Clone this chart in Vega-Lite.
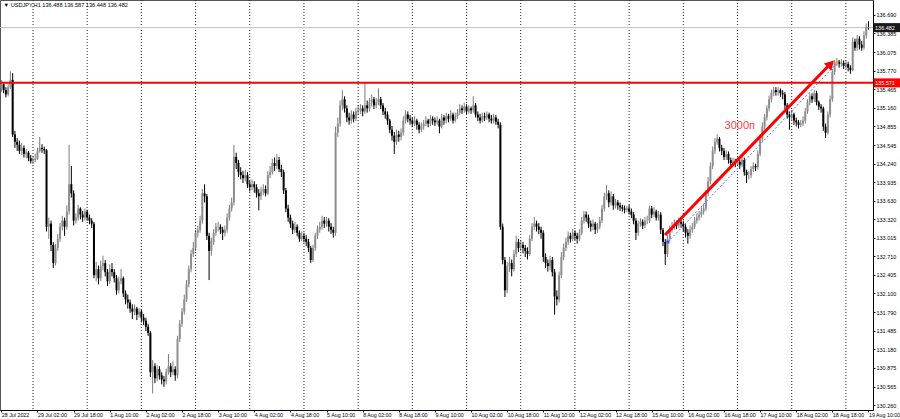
{
"$schema": "https://vega.github.io/schema/vega-lite/v6.json",
"width": 873, "height": 410,
"autosize": {"type": "none"},
"padding": {"left": 0, "top": 0, "right": 27, "bottom": 9},
"background": "white",
"config": {"view": {"stroke": "#555", "strokeWidth": 1}},
"data": {"name": "candles"},
"datasets": {
"candles": [
{"i":0,"o":135.48,"h":135.62,"l":135.42,"c":135.55},
{"i":1,"o":135.55,"h":135.58,"l":135.40,"c":135.45},
{"i":2,"o":135.45,"h":135.50,"l":135.33,"c":135.38},
{"i":3,"o":135.38,"h":135.55,"l":135.35,"c":135.50},
{"i":4,"o":135.50,"h":135.76,"l":135.47,"c":135.62},
{"i":5,"o":135.62,"h":135.73,"l":134.68,"c":134.72},
{"i":6,"o":134.72,"h":134.78,"l":134.50,"c":134.60},
{"i":7,"o":134.60,"h":134.66,"l":134.45,"c":134.55},
{"i":8,"o":134.55,"h":134.62,"l":134.40,"c":134.45},
{"i":9,"o":134.45,"h":134.58,"l":134.38,"c":134.50},
{"i":10,"o":134.50,"h":134.54,"l":134.34,"c":134.40},
{"i":11,"o":134.40,"h":134.48,"l":134.33,"c":134.42},
{"i":12,"o":134.42,"h":134.45,"l":134.28,"c":134.33},
{"i":13,"o":134.33,"h":134.38,"l":134.24,"c":134.28},
{"i":14,"o":134.28,"h":134.36,"l":134.23,"c":134.30},
{"i":15,"o":134.30,"h":134.40,"l":134.26,"c":134.32},
{"i":16,"o":134.32,"h":134.50,"l":134.30,"c":134.45},
{"i":17,"o":134.45,"h":134.68,"l":134.42,"c":134.50},
{"i":18,"o":134.50,"h":134.56,"l":134.42,"c":134.48},
{"i":19,"o":134.48,"h":134.52,"l":134.40,"c":134.46},
{"i":20,"o":134.46,"h":134.48,"l":133.12,"c":133.20},
{"i":21,"o":133.20,"h":133.35,"l":133.00,"c":133.25},
{"i":22,"o":133.25,"h":133.30,"l":132.80,"c":132.90},
{"i":23,"o":132.90,"h":132.95,"l":132.52,"c":132.60},
{"i":24,"o":132.60,"h":132.92,"l":132.56,"c":132.85},
{"i":25,"o":132.85,"h":133.08,"l":132.80,"c":133.00},
{"i":26,"o":133.00,"h":133.26,"l":132.95,"c":133.20},
{"i":27,"o":133.20,"h":133.38,"l":133.14,"c":133.30},
{"i":28,"o":133.30,"h":133.35,"l":133.05,"c":133.20},
{"i":29,"o":133.20,"h":133.55,"l":133.15,"c":133.45},
{"i":30,"o":133.45,"h":134.55,"l":133.40,"c":133.90},
{"i":31,"o":133.90,"h":134.20,"l":133.68,"c":133.75},
{"i":32,"o":133.75,"h":133.80,"l":133.22,"c":133.30},
{"i":33,"o":133.30,"h":133.42,"l":133.25,"c":133.35},
{"i":34,"o":133.35,"h":133.56,"l":133.30,"c":133.50},
{"i":35,"o":133.50,"h":133.52,"l":133.32,"c":133.40},
{"i":36,"o":133.40,"h":133.46,"l":133.28,"c":133.35},
{"i":37,"o":133.35,"h":133.50,"l":133.30,"c":133.45},
{"i":38,"o":133.45,"h":133.48,"l":133.30,"c":133.35},
{"i":39,"o":133.35,"h":133.40,"l":133.24,"c":133.30},
{"i":40,"o":133.30,"h":133.34,"l":133.18,"c":133.25},
{"i":41,"o":133.25,"h":133.28,"l":132.35,"c":132.40},
{"i":42,"o":132.40,"h":132.62,"l":132.30,"c":132.50},
{"i":43,"o":132.50,"h":132.56,"l":132.25,"c":132.35},
{"i":44,"o":132.35,"h":132.64,"l":132.30,"c":132.55},
{"i":45,"o":132.55,"h":132.72,"l":132.48,"c":132.60},
{"i":46,"o":132.60,"h":132.65,"l":132.38,"c":132.45},
{"i":47,"o":132.45,"h":132.50,"l":132.22,"c":132.30},
{"i":48,"o":132.30,"h":132.58,"l":132.26,"c":132.50},
{"i":49,"o":132.50,"h":132.60,"l":132.38,"c":132.45},
{"i":50,"o":132.45,"h":132.50,"l":132.28,"c":132.35},
{"i":51,"o":132.35,"h":132.40,"l":132.08,"c":132.15},
{"i":52,"o":132.15,"h":132.38,"l":132.10,"c":132.30},
{"i":53,"o":132.30,"h":132.50,"l":132.25,"c":132.35},
{"i":54,"o":132.35,"h":132.38,"l":132.04,"c":132.10},
{"i":55,"o":132.10,"h":132.15,"l":131.92,"c":132.00},
{"i":56,"o":132.00,"h":132.08,"l":131.85,"c":131.95},
{"i":57,"o":131.95,"h":132.00,"l":131.78,"c":131.85},
{"i":58,"o":131.85,"h":131.92,"l":131.68,"c":131.80},
{"i":59,"o":131.80,"h":131.92,"l":131.74,"c":131.85},
{"i":60,"o":131.85,"h":131.88,"l":131.66,"c":131.75},
{"i":61,"o":131.75,"h":131.86,"l":131.70,"c":131.80},
{"i":62,"o":131.80,"h":131.84,"l":131.62,"c":131.70},
{"i":63,"o":131.70,"h":131.76,"l":131.58,"c":131.65},
{"i":64,"o":131.65,"h":131.70,"l":131.48,"c":131.55},
{"i":65,"o":131.55,"h":131.60,"l":131.40,"c":131.45},
{"i":66,"o":131.45,"h":131.48,"l":130.72,"c":130.80},
{"i":67,"o":130.80,"h":131.00,"l":130.45,"c":130.90},
{"i":68,"o":130.90,"h":130.95,"l":130.62,"c":130.70},
{"i":69,"o":130.70,"h":130.92,"l":130.65,"c":130.85},
{"i":70,"o":130.85,"h":130.90,"l":130.68,"c":130.75},
{"i":71,"o":130.75,"h":130.80,"l":130.60,"c":130.68},
{"i":72,"o":130.68,"h":130.74,"l":130.56,"c":130.65},
{"i":73,"o":130.65,"h":130.86,"l":130.60,"c":130.80},
{"i":74,"o":130.80,"h":131.10,"l":130.76,"c":130.90},
{"i":75,"o":130.90,"h":130.95,"l":130.72,"c":130.80},
{"i":76,"o":130.80,"h":130.98,"l":130.75,"c":130.85},
{"i":77,"o":130.85,"h":130.90,"l":130.66,"c":130.75},
{"i":78,"o":130.75,"h":131.40,"l":130.70,"c":131.35},
{"i":79,"o":131.35,"h":131.66,"l":131.30,"c":131.60},
{"i":80,"o":131.60,"h":131.86,"l":131.55,"c":131.80},
{"i":81,"o":131.80,"h":132.08,"l":131.75,"c":132.00},
{"i":82,"o":132.00,"h":132.32,"l":131.96,"c":132.25},
{"i":83,"o":132.25,"h":132.56,"l":132.20,"c":132.50},
{"i":84,"o":132.50,"h":132.82,"l":132.45,"c":132.75},
{"i":85,"o":132.75,"h":132.95,"l":132.70,"c":132.85},
{"i":86,"o":132.85,"h":133.15,"l":132.80,"c":133.10},
{"i":87,"o":133.10,"h":133.22,"l":133.02,"c":133.15},
{"i":88,"o":133.15,"h":133.38,"l":133.10,"c":133.30},
{"i":89,"o":133.30,"h":133.82,"l":133.25,"c":133.75},
{"i":90,"o":133.75,"h":133.90,"l":133.60,"c":133.70},
{"i":91,"o":133.70,"h":133.74,"l":132.98,"c":133.05},
{"i":92,"o":133.05,"h":133.10,"l":132.32,"c":132.80},
{"i":93,"o":132.80,"h":133.02,"l":132.72,"c":132.95},
{"i":94,"o":132.95,"h":133.16,"l":132.90,"c":133.10},
{"i":95,"o":133.10,"h":133.26,"l":133.05,"c":133.20},
{"i":96,"o":133.20,"h":133.28,"l":133.12,"c":133.20},
{"i":97,"o":133.20,"h":133.24,"l":133.08,"c":133.15},
{"i":98,"o":133.15,"h":133.20,"l":132.98,"c":133.10},
{"i":99,"o":133.10,"h":133.22,"l":133.04,"c":133.15},
{"i":100,"o":133.15,"h":133.42,"l":133.10,"c":133.35},
{"i":101,"o":133.35,"h":133.56,"l":133.30,"c":133.50},
{"i":102,"o":133.50,"h":133.68,"l":133.45,"c":133.60},
{"i":103,"o":133.60,"h":134.55,"l":133.55,"c":134.35},
{"i":104,"o":134.35,"h":134.42,"l":134.15,"c":134.25},
{"i":105,"o":134.25,"h":134.30,"l":134.02,"c":134.10},
{"i":106,"o":134.10,"h":134.18,"l":133.98,"c":134.05},
{"i":107,"o":134.05,"h":134.12,"l":133.92,"c":134.00},
{"i":108,"o":134.00,"h":134.14,"l":133.95,"c":134.05},
{"i":109,"o":134.05,"h":134.10,"l":133.84,"c":133.90},
{"i":110,"o":133.90,"h":133.96,"l":133.78,"c":133.85},
{"i":111,"o":133.85,"h":133.98,"l":133.80,"c":133.90},
{"i":112,"o":133.90,"h":133.95,"l":133.76,"c":133.85},
{"i":113,"o":133.85,"h":133.90,"l":133.68,"c":133.75},
{"i":114,"o":133.75,"h":133.82,"l":133.47,"c":133.70},
{"i":115,"o":133.70,"h":133.86,"l":133.64,"c":133.78},
{"i":116,"o":133.78,"h":133.90,"l":133.72,"c":133.82},
{"i":117,"o":133.82,"h":133.88,"l":133.70,"c":133.75},
{"i":118,"o":133.75,"h":134.12,"l":133.72,"c":134.05},
{"i":119,"o":134.05,"h":134.20,"l":134.00,"c":134.10},
{"i":120,"o":134.10,"h":134.32,"l":134.06,"c":134.25},
{"i":121,"o":134.25,"h":134.34,"l":134.12,"c":134.20},
{"i":122,"o":134.20,"h":134.40,"l":134.15,"c":134.30},
{"i":123,"o":134.30,"h":134.35,"l":134.10,"c":134.15},
{"i":124,"o":134.15,"h":134.22,"l":134.02,"c":134.10},
{"i":125,"o":134.10,"h":134.14,"l":133.74,"c":133.80},
{"i":126,"o":133.80,"h":133.84,"l":133.44,"c":133.50},
{"i":127,"o":133.50,"h":133.56,"l":133.28,"c":133.35},
{"i":128,"o":133.35,"h":133.40,"l":133.18,"c":133.25},
{"i":129,"o":133.25,"h":133.30,"l":133.08,"c":133.15},
{"i":130,"o":133.15,"h":133.28,"l":133.10,"c":133.20},
{"i":131,"o":133.20,"h":133.24,"l":133.04,"c":133.10},
{"i":132,"o":133.10,"h":133.14,"l":132.95,"c":133.00},
{"i":133,"o":133.00,"h":133.12,"l":132.96,"c":133.05},
{"i":134,"o":133.05,"h":133.10,"l":132.94,"c":133.00},
{"i":135,"o":133.00,"h":133.06,"l":132.88,"c":132.95},
{"i":136,"o":132.95,"h":133.00,"l":132.78,"c":132.85},
{"i":137,"o":132.85,"h":132.88,"l":132.60,"c":132.65},
{"i":138,"o":132.65,"h":132.90,"l":132.62,"c":132.85},
{"i":139,"o":132.85,"h":133.10,"l":132.80,"c":133.05},
{"i":140,"o":133.05,"h":133.22,"l":133.00,"c":133.15},
{"i":141,"o":133.15,"h":133.28,"l":133.10,"c":133.20},
{"i":142,"o":133.20,"h":133.38,"l":133.15,"c":133.30},
{"i":143,"o":133.30,"h":133.36,"l":133.18,"c":133.25},
{"i":144,"o":133.25,"h":133.36,"l":133.20,"c":133.30},
{"i":145,"o":133.30,"h":133.34,"l":133.12,"c":133.20},
{"i":146,"o":133.20,"h":133.26,"l":133.08,"c":133.15},
{"i":147,"o":133.15,"h":133.20,"l":133.02,"c":133.10},
{"i":148,"o":133.10,"h":134.85,"l":133.05,"c":134.75},
{"i":149,"o":134.75,"h":135.00,"l":134.68,"c":134.90},
{"i":150,"o":134.90,"h":135.28,"l":134.85,"c":135.20},
{"i":151,"o":135.20,"h":135.45,"l":135.12,"c":135.30},
{"i":152,"o":135.30,"h":135.35,"l":135.08,"c":135.15},
{"i":153,"o":135.15,"h":135.20,"l":134.92,"c":135.00},
{"i":154,"o":135.00,"h":135.08,"l":134.88,"c":134.95},
{"i":155,"o":134.95,"h":135.12,"l":134.90,"c":135.05},
{"i":156,"o":135.05,"h":135.10,"l":134.92,"c":134.98},
{"i":157,"o":134.98,"h":135.16,"l":134.94,"c":135.10},
{"i":158,"o":135.10,"h":135.20,"l":135.04,"c":135.12},
{"i":159,"o":135.12,"h":135.22,"l":135.06,"c":135.15},
{"i":160,"o":135.15,"h":135.20,"l":135.02,"c":135.10},
{"i":161,"o":135.10,"h":135.58,"l":135.06,"c":135.20},
{"i":162,"o":135.20,"h":135.28,"l":135.08,"c":135.15},
{"i":163,"o":135.15,"h":135.32,"l":135.10,"c":135.25},
{"i":164,"o":135.25,"h":135.38,"l":135.18,"c":135.30},
{"i":165,"o":135.30,"h":135.34,"l":135.14,"c":135.20},
{"i":166,"o":135.20,"h":135.32,"l":135.15,"c":135.25},
{"i":167,"o":135.25,"h":135.48,"l":135.20,"c":135.30},
{"i":168,"o":135.30,"h":135.34,"l":135.14,"c":135.20},
{"i":169,"o":135.20,"h":135.24,"l":135.04,"c":135.10},
{"i":170,"o":135.10,"h":135.16,"l":134.98,"c":135.05},
{"i":171,"o":135.05,"h":135.10,"l":134.88,"c":134.95},
{"i":172,"o":134.95,"h":134.98,"l":134.74,"c":134.80},
{"i":173,"o":134.80,"h":134.86,"l":134.62,"c":134.70},
{"i":174,"o":134.70,"h":134.76,"l":134.40,"c":134.60},
{"i":175,"o":134.60,"h":134.80,"l":134.55,"c":134.72},
{"i":176,"o":134.72,"h":134.78,"l":134.60,"c":134.68},
{"i":177,"o":134.68,"h":134.82,"l":134.62,"c":134.75},
{"i":178,"o":134.75,"h":135.02,"l":134.70,"c":134.95},
{"i":179,"o":134.95,"h":135.12,"l":134.90,"c":135.05},
{"i":180,"o":135.05,"h":135.10,"l":134.92,"c":134.98},
{"i":181,"o":134.98,"h":135.04,"l":134.88,"c":134.95},
{"i":182,"o":134.95,"h":135.00,"l":134.84,"c":134.90},
{"i":183,"o":134.90,"h":135.02,"l":134.86,"c":134.95},
{"i":184,"o":134.95,"h":134.98,"l":134.80,"c":134.88},
{"i":185,"o":134.88,"h":134.92,"l":134.74,"c":134.80},
{"i":186,"o":134.80,"h":134.92,"l":134.76,"c":134.85},
{"i":187,"o":134.85,"h":134.96,"l":134.80,"c":134.90},
{"i":188,"o":134.90,"h":135.02,"l":134.86,"c":134.95},
{"i":189,"o":134.95,"h":134.98,"l":134.84,"c":134.90},
{"i":190,"o":134.90,"h":135.04,"l":134.86,"c":134.98},
{"i":191,"o":134.98,"h":135.02,"l":134.88,"c":134.95},
{"i":192,"o":134.95,"h":135.00,"l":134.86,"c":134.92},
{"i":193,"o":134.92,"h":135.02,"l":134.88,"c":134.95},
{"i":194,"o":134.95,"h":134.98,"l":134.74,"c":134.85},
{"i":195,"o":134.85,"h":135.06,"l":134.82,"c":135.00},
{"i":196,"o":135.00,"h":135.04,"l":134.88,"c":134.95},
{"i":197,"o":134.95,"h":135.08,"l":134.90,"c":135.02},
{"i":198,"o":135.02,"h":135.06,"l":134.92,"c":134.98},
{"i":199,"o":134.98,"h":135.12,"l":134.94,"c":135.05},
{"i":200,"o":135.05,"h":135.08,"l":134.90,"c":134.95},
{"i":201,"o":134.95,"h":135.08,"l":134.92,"c":135.02},
{"i":202,"o":135.02,"h":135.14,"l":134.98,"c":135.08},
{"i":203,"o":135.08,"h":135.22,"l":135.04,"c":135.15},
{"i":204,"o":135.15,"h":135.20,"l":135.06,"c":135.12},
{"i":205,"o":135.12,"h":135.24,"l":135.08,"c":135.18},
{"i":206,"o":135.18,"h":135.22,"l":135.05,"c":135.10},
{"i":207,"o":135.10,"h":135.20,"l":135.06,"c":135.15},
{"i":208,"o":135.15,"h":135.18,"l":135.06,"c":135.12},
{"i":209,"o":135.12,"h":135.35,"l":135.08,"c":135.20},
{"i":210,"o":135.20,"h":135.24,"l":135.00,"c":135.05},
{"i":211,"o":135.05,"h":135.10,"l":134.94,"c":135.00},
{"i":212,"o":135.00,"h":135.06,"l":134.90,"c":134.95},
{"i":213,"o":134.95,"h":135.08,"l":134.92,"c":135.02},
{"i":214,"o":135.02,"h":135.08,"l":134.94,"c":135.00},
{"i":215,"o":135.00,"h":135.10,"l":134.96,"c":135.05},
{"i":216,"o":135.05,"h":135.08,"l":134.92,"c":134.98},
{"i":217,"o":134.98,"h":135.04,"l":134.90,"c":134.95},
{"i":218,"o":134.95,"h":135.06,"l":134.90,"c":135.00},
{"i":219,"o":135.00,"h":135.04,"l":134.88,"c":134.93},
{"i":220,"o":134.93,"h":134.98,"l":134.82,"c":134.88},
{"i":221,"o":134.88,"h":134.92,"l":133.15,"c":133.20},
{"i":222,"o":133.20,"h":133.25,"l":132.58,"c":132.65},
{"i":223,"o":132.65,"h":132.70,"l":132.04,"c":132.15},
{"i":224,"o":132.15,"h":132.62,"l":132.10,"c":132.55},
{"i":225,"o":132.55,"h":132.70,"l":132.45,"c":132.60},
{"i":226,"o":132.60,"h":132.66,"l":132.38,"c":132.50},
{"i":227,"o":132.50,"h":132.82,"l":132.46,"c":132.75},
{"i":228,"o":132.75,"h":133.05,"l":132.70,"c":132.95},
{"i":229,"o":132.95,"h":133.00,"l":132.78,"c":132.85},
{"i":230,"o":132.85,"h":132.98,"l":132.80,"c":132.90},
{"i":231,"o":132.90,"h":132.95,"l":132.76,"c":132.85},
{"i":232,"o":132.85,"h":132.90,"l":132.70,"c":132.80},
{"i":233,"o":132.80,"h":132.86,"l":132.66,"c":132.75},
{"i":234,"o":132.75,"h":133.06,"l":132.72,"c":133.00},
{"i":235,"o":133.00,"h":133.26,"l":132.96,"c":133.20},
{"i":236,"o":133.20,"h":133.36,"l":133.15,"c":133.25},
{"i":237,"o":133.25,"h":133.30,"l":133.12,"c":133.20},
{"i":238,"o":133.20,"h":133.26,"l":133.08,"c":133.15},
{"i":239,"o":133.15,"h":133.20,"l":133.00,"c":133.10},
{"i":240,"o":133.10,"h":133.14,"l":132.62,"c":132.70},
{"i":241,"o":132.70,"h":132.76,"l":132.52,"c":132.60},
{"i":242,"o":132.60,"h":132.66,"l":132.46,"c":132.55},
{"i":243,"o":132.55,"h":132.72,"l":132.48,"c":132.65},
{"i":244,"o":132.65,"h":132.70,"l":132.38,"c":132.45},
{"i":245,"o":132.45,"h":132.50,"l":131.75,"c":132.05},
{"i":246,"o":132.05,"h":132.15,"l":131.90,"c":132.00},
{"i":247,"o":132.00,"h":132.46,"l":131.95,"c":132.40},
{"i":248,"o":132.40,"h":132.78,"l":132.35,"c":132.70},
{"i":249,"o":132.70,"h":132.92,"l":132.65,"c":132.85},
{"i":250,"o":132.85,"h":133.02,"l":132.80,"c":132.95},
{"i":251,"o":132.95,"h":133.12,"l":132.90,"c":133.05},
{"i":252,"o":133.05,"h":133.10,"l":132.94,"c":133.00},
{"i":253,"o":133.00,"h":133.16,"l":132.96,"c":133.10},
{"i":254,"o":133.10,"h":133.14,"l":132.98,"c":133.05},
{"i":255,"o":133.05,"h":133.10,"l":132.92,"c":133.00},
{"i":256,"o":133.00,"h":133.16,"l":132.96,"c":133.10},
{"i":257,"o":133.10,"h":133.36,"l":133.06,"c":133.30},
{"i":258,"o":133.30,"h":133.46,"l":133.25,"c":133.40},
{"i":259,"o":133.40,"h":133.45,"l":133.28,"c":133.35},
{"i":260,"o":133.35,"h":133.40,"l":133.18,"c":133.25},
{"i":261,"o":133.25,"h":133.30,"l":133.12,"c":133.20},
{"i":262,"o":133.20,"h":133.32,"l":133.14,"c":133.25},
{"i":263,"o":133.25,"h":133.28,"l":133.08,"c":133.15},
{"i":264,"o":133.15,"h":133.26,"l":133.10,"c":133.20},
{"i":265,"o":133.20,"h":133.36,"l":133.16,"c":133.30},
{"i":266,"o":133.30,"h":133.56,"l":133.26,"c":133.50},
{"i":267,"o":133.50,"h":133.76,"l":133.45,"c":133.70},
{"i":268,"o":133.70,"h":133.89,"l":133.64,"c":133.75},
{"i":269,"o":133.75,"h":133.80,"l":133.52,"c":133.60},
{"i":270,"o":133.60,"h":133.78,"l":133.55,"c":133.70},
{"i":271,"o":133.70,"h":133.74,"l":133.48,"c":133.55},
{"i":272,"o":133.55,"h":133.66,"l":133.50,"c":133.60},
{"i":273,"o":133.60,"h":133.64,"l":133.48,"c":133.55},
{"i":274,"o":133.55,"h":133.60,"l":133.46,"c":133.52},
{"i":275,"o":133.52,"h":133.56,"l":133.45,"c":133.50},
{"i":276,"o":133.50,"h":133.55,"l":133.42,"c":133.48},
{"i":277,"o":133.48,"h":133.54,"l":133.44,"c":133.50},
{"i":278,"o":133.50,"h":133.56,"l":133.40,"c":133.45},
{"i":279,"o":133.45,"h":133.50,"l":133.34,"c":133.40},
{"i":280,"o":133.40,"h":133.44,"l":133.24,"c":133.30},
{"i":281,"o":133.30,"h":133.34,"l":132.98,"c":133.10},
{"i":282,"o":133.10,"h":133.30,"l":133.05,"c":133.25},
{"i":283,"o":133.25,"h":133.34,"l":133.20,"c":133.28},
{"i":284,"o":133.28,"h":133.32,"l":133.16,"c":133.22},
{"i":285,"o":133.22,"h":133.36,"l":133.18,"c":133.30},
{"i":286,"o":133.30,"h":133.38,"l":133.24,"c":133.30},
{"i":287,"o":133.30,"h":133.55,"l":133.26,"c":133.50},
{"i":288,"o":133.50,"h":133.54,"l":133.34,"c":133.40},
{"i":289,"o":133.40,"h":133.52,"l":133.36,"c":133.45},
{"i":290,"o":133.45,"h":133.48,"l":133.30,"c":133.35},
{"i":291,"o":133.35,"h":133.46,"l":133.30,"c":133.40},
{"i":292,"o":133.40,"h":133.44,"l":133.08,"c":133.15},
{"i":293,"o":133.15,"h":133.18,"l":132.88,"c":132.95},
{"i":294,"o":132.95,"h":133.00,"l":132.57,"c":132.75},
{"i":295,"o":132.75,"h":133.06,"l":132.70,"c":133.00},
{"i":296,"o":133.00,"h":133.22,"l":132.96,"c":133.15},
{"i":297,"o":133.15,"h":133.28,"l":133.10,"c":133.20},
{"i":298,"o":133.20,"h":133.32,"l":133.15,"c":133.25},
{"i":299,"o":133.25,"h":133.30,"l":133.16,"c":133.22},
{"i":300,"o":133.22,"h":133.35,"l":133.18,"c":133.28},
{"i":301,"o":133.28,"h":133.32,"l":133.18,"c":133.25},
{"i":302,"o":133.25,"h":133.30,"l":133.12,"c":133.20},
{"i":303,"o":133.20,"h":133.24,"l":133.02,"c":133.10},
{"i":304,"o":133.10,"h":133.16,"l":132.92,"c":133.05},
{"i":305,"o":133.05,"h":133.22,"l":133.00,"c":133.15},
{"i":306,"o":133.15,"h":133.26,"l":133.10,"c":133.20},
{"i":307,"o":133.20,"h":133.36,"l":133.16,"c":133.30},
{"i":308,"o":133.30,"h":133.42,"l":133.25,"c":133.35},
{"i":309,"o":133.35,"h":133.46,"l":133.30,"c":133.40},
{"i":310,"o":133.40,"h":133.52,"l":133.35,"c":133.45},
{"i":311,"o":133.45,"h":133.58,"l":133.40,"c":133.50},
{"i":312,"o":133.50,"h":133.80,"l":133.46,"c":133.75},
{"i":313,"o":133.75,"h":134.02,"l":133.70,"c":133.95},
{"i":314,"o":133.95,"h":134.26,"l":133.90,"c":134.20},
{"i":315,"o":134.20,"h":134.52,"l":134.15,"c":134.45},
{"i":316,"o":134.45,"h":134.66,"l":134.40,"c":134.60},
{"i":317,"o":134.60,"h":134.72,"l":134.55,"c":134.65},
{"i":318,"o":134.65,"h":134.68,"l":134.44,"c":134.50},
{"i":319,"o":134.50,"h":134.55,"l":134.38,"c":134.45},
{"i":320,"o":134.45,"h":134.50,"l":134.30,"c":134.35},
{"i":321,"o":134.35,"h":134.46,"l":134.30,"c":134.40},
{"i":322,"o":134.40,"h":134.44,"l":134.24,"c":134.30},
{"i":323,"o":134.30,"h":134.34,"l":134.18,"c":134.25},
{"i":324,"o":134.25,"h":134.34,"l":134.20,"c":134.28},
{"i":325,"o":134.28,"h":134.32,"l":134.18,"c":134.25},
{"i":326,"o":134.25,"h":134.34,"l":134.20,"c":134.27},
{"i":327,"o":134.27,"h":134.30,"l":134.15,"c":134.22},
{"i":328,"o":134.22,"h":134.36,"l":134.18,"c":134.30},
{"i":329,"o":134.30,"h":134.34,"l":134.04,"c":134.10},
{"i":330,"o":134.10,"h":134.14,"l":133.92,"c":134.05},
{"i":331,"o":134.05,"h":134.12,"l":133.98,"c":134.05},
{"i":332,"o":134.05,"h":134.20,"l":134.00,"c":134.15},
{"i":333,"o":134.15,"h":134.26,"l":134.10,"c":134.20},
{"i":334,"o":134.20,"h":134.24,"l":134.12,"c":134.18},
{"i":335,"o":134.18,"h":134.46,"l":134.14,"c":134.40},
{"i":336,"o":134.40,"h":134.70,"l":134.36,"c":134.65},
{"i":337,"o":134.65,"h":134.92,"l":134.60,"c":134.85},
{"i":338,"o":134.85,"h":135.06,"l":134.80,"c":135.00},
{"i":339,"o":135.00,"h":135.20,"l":134.95,"c":135.15},
{"i":340,"o":135.15,"h":135.36,"l":135.10,"c":135.30},
{"i":341,"o":135.30,"h":135.46,"l":135.25,"c":135.40},
{"i":342,"o":135.40,"h":135.50,"l":135.35,"c":135.45},
{"i":343,"o":135.45,"h":135.50,"l":135.36,"c":135.42},
{"i":344,"o":135.42,"h":135.50,"l":135.36,"c":135.45},
{"i":345,"o":135.45,"h":135.48,"l":135.34,"c":135.40},
{"i":346,"o":135.40,"h":135.45,"l":135.30,"c":135.38},
{"i":347,"o":135.38,"h":135.42,"l":135.14,"c":135.20},
{"i":348,"o":135.20,"h":135.24,"l":134.98,"c":135.05},
{"i":349,"o":135.05,"h":135.10,"l":134.80,"c":135.00},
{"i":350,"o":135.00,"h":135.12,"l":134.96,"c":135.05},
{"i":351,"o":135.05,"h":135.08,"l":134.88,"c":134.95},
{"i":352,"o":134.95,"h":135.00,"l":134.85,"c":134.92},
{"i":353,"o":134.92,"h":134.96,"l":134.82,"c":134.88},
{"i":354,"o":134.88,"h":134.96,"l":134.84,"c":134.90},
{"i":355,"o":134.90,"h":135.02,"l":134.86,"c":134.95},
{"i":356,"o":134.95,"h":135.16,"l":134.90,"c":135.10},
{"i":357,"o":135.10,"h":135.30,"l":135.06,"c":135.25},
{"i":358,"o":135.25,"h":135.40,"l":135.20,"c":135.35},
{"i":359,"o":135.35,"h":135.40,"l":135.24,"c":135.30},
{"i":360,"o":135.30,"h":135.45,"l":135.26,"c":135.40},
{"i":361,"o":135.40,"h":135.44,"l":135.20,"c":135.25},
{"i":362,"o":135.25,"h":135.28,"l":135.12,"c":135.18},
{"i":363,"o":135.18,"h":135.22,"l":135.08,"c":135.15},
{"i":364,"o":135.15,"h":135.18,"l":134.78,"c":134.85},
{"i":365,"o":134.85,"h":134.90,"l":134.66,"c":134.75},
{"i":366,"o":134.75,"h":135.10,"l":134.72,"c":135.05},
{"i":367,"o":135.05,"h":135.36,"l":135.00,"c":135.30},
{"i":368,"o":135.30,"h":135.80,"l":135.26,"c":135.75},
{"i":369,"o":135.75,"h":135.95,"l":135.70,"c":135.90},
{"i":370,"o":135.90,"h":135.98,"l":135.85,"c":135.92},
{"i":371,"o":135.92,"h":135.95,"l":135.82,"c":135.88},
{"i":372,"o":135.88,"h":135.96,"l":135.84,"c":135.90},
{"i":373,"o":135.90,"h":135.94,"l":135.80,"c":135.85},
{"i":374,"o":135.85,"h":135.94,"l":135.80,"c":135.88},
{"i":375,"o":135.88,"h":135.92,"l":135.76,"c":135.82},
{"i":376,"o":135.82,"h":135.86,"l":135.72,"c":135.78},
{"i":377,"o":135.78,"h":136.32,"l":135.76,"c":136.25},
{"i":378,"o":136.25,"h":136.30,"l":136.10,"c":136.15},
{"i":379,"o":136.15,"h":136.36,"l":136.10,"c":136.30},
{"i":380,"o":136.30,"h":136.34,"l":136.12,"c":136.20},
{"i":381,"o":136.20,"h":136.26,"l":136.10,"c":136.15},
{"i":382,"o":136.15,"h":136.42,"l":136.12,"c":136.35},
{"i":383,"o":136.35,"h":136.55,"l":136.30,"c":136.49},
{"i":384,"o":136.488,"h":136.587,"l":136.448,"c":136.482}
],
"days": [{"i":14},{"i":38},{"i":62},{"i":86},{"i":110},{"i":134},{"i":158},{"i":182},{"i":206},{"i":230},{"i":254},{"i":278},{"i":302},{"i":326},{"i":350},{"i":374}],
"level": [{"p":135.571,"t":"135.571"}],
"bid": [{"p":136.482,"t":"136.482"}],
"trend": [{"i1":295.2,"p1":132.947,"i2":370.1,"p2":135.899}],
"arrow": [{"i1":293.9,"p1":133.063,"i2":366.2,"p2":135.85,"ti":367.3,"tp":135.885}],
"note": [{"t":"3000п","i":327,"p":134.86}],
"head": [{"t":"▼ USDJPY,H1 136.488 136.587 136.448 136.482","i":1.0,"p":136.855}]
},
"resolve": {"axis": {"x": "independent", "y": "independent"}},
"layer": [
{"mark": {"type": "rule", "strokeWidth": 1},
 "encoding": {
  "x": {"field": "i", "type": "quantitative", "scale": {"domain": [-0.6, 386], "nice": false, "zero": false, "padding": 0},
        "axis": {"orient": "bottom", "title": null, "values": [0,16,32,48,64,80,96,112,128,144,160,176,192,208,224,240,256,272,288,304,320,336,352,368,384],
                 "labelExpr": "['28 Jul 2022','29 Jul 02:00','29 Jul 18:00','1 Aug 10:00','2 Aug 02:00','2 Aug 18:00','3 Aug 10:00','4 Aug 02:00','4 Aug 18:00','5 Aug 10:00','8 Aug 02:00','8 Aug 18:00','9 Aug 10:00','10 Aug 02:00','10 Aug 18:00','11 Aug 10:00','12 Aug 02:00','12 Aug 18:00','15 Aug 10:00','16 Aug 02:00','16 Aug 18:00','17 Aug 10:00','18 Aug 02:00','18 Aug 18:00','19 Aug 10:00'][round(datum.value/16)]",
                 "labelAlign": "left", "labelBaseline": "top", "labelPadding": 0, "labelFontSize": 5.3, "labelFont": "Liberation Sans", "labelColor": "#000",
                 "labelFlush": false, "labelOverlap": false, "tickSize": 2, "tickColor": "#000", "domainColor": "#000", "grid": false}},
  "y": {"field": "l", "type": "quantitative", "scale": {"domain": [130.178, 136.937], "nice": false, "zero": false, "padding": 0},
        "axis": {"orient": "right", "title": null, "values": [130.26,130.565,130.875,131.18,131.485,131.79,132.1,132.405,132.71,133.015,133.32,133.63,133.935,134.24,134.545,134.855,135.16,135.465,135.77,136.075,136.385,136.69],
                 "format": ".3f", "labelFontSize": 5.5, "labelFont": "Liberation Sans", "labelColor": "#000", "labelPadding": 1, "tickSize": 2, "tickColor": "#000", "domainColor": "#000", "labelFlush": false, "labelOverlap": false, "grid": false}},
  "y2": {"field": "h"},
  "color": {"condition": {"test": "datum.c >= datum.o", "value": "#7c7c7c"}, "value": "#000000"}
 }},
{"data": {"name": "days"}, "mark": {"type": "rule", "color": "#222", "strokeDash": [1, 2], "strokeWidth": 1},
 "encoding": {"x": {"field": "i", "type": "quantitative", "axis": null}}},
{"data": {"name": "bid"}, "mark": {"type": "rule", "color": "#c0c0c0", "strokeWidth": 1},
 "encoding": {"y": {"field": "p", "type": "quantitative", "axis": null}}},
{"mark": {"type": "bar", "width": 2},
 "encoding": {
  "x": {"field": "i", "type": "quantitative", "axis": null},
  "y": {"field": "o", "type": "quantitative", "axis": null},
  "y2": {"field": "c"},
  "color": {"condition": {"test": "datum.c >= datum.o", "value": "#8e8e8e"}, "value": "#000000"}
 }},
{"data": {"name": "level"}, "mark": {"type": "rule", "color": "#ff0000", "strokeWidth": 2},
 "encoding": {"y": {"field": "p", "type": "quantitative", "axis": null}}},
{"data": {"name": "trend"}, "mark": {"type": "rule", "color": "#5a6cff", "strokeDash": [2, 2], "strokeWidth": 1},
 "encoding": {"x": {"field": "i1", "type": "quantitative", "axis": null}, "y": {"field": "p1", "type": "quantitative", "axis": null}, "x2": {"field": "i2"}, "y2": {"field": "p2"}}},
{"data": {"name": "trend"}, "mark": {"type": "point", "shape": "square", "filled": true, "size": 9, "color": "#3050ff", "opacity": 1},
 "encoding": {"x": {"field": "i1", "type": "quantitative", "axis": null}, "y": {"field": "p1", "type": "quantitative", "axis": null}}},
{"data": {"name": "trend"}, "mark": {"type": "point", "shape": "square", "filled": true, "size": 9, "color": "#f0a030", "opacity": 1},
 "encoding": {"x": {"field": "i2", "type": "quantitative", "axis": null}, "y": {"field": "p2", "type": "quantitative", "axis": null}}},
{"data": {"name": "arrow"}, "mark": {"type": "rule", "color": "#ff0000", "strokeWidth": 3},
 "encoding": {"x": {"field": "i1", "type": "quantitative", "axis": null}, "y": {"field": "p1", "type": "quantitative", "axis": null}, "x2": {"field": "i2"}, "y2": {"field": "p2"}}},
{"data": {"name": "arrow"}, "mark": {"type": "point", "shape": "triangle-up", "filled": true, "size": 110, "color": "#ff0000", "opacity": 1, "angle": 44},
 "encoding": {"x": {"field": "ti", "type": "quantitative", "axis": null}, "y": {"field": "tp", "type": "quantitative", "axis": null}}},
{"data": {"name": "note"}, "mark": {"type": "text", "color": "#ff3b3b", "fontSize": 11, "font": "Liberation Sans", "align": "center", "baseline": "middle"},
 "encoding": {"x": {"field": "i", "type": "quantitative", "axis": null}, "y": {"field": "p", "type": "quantitative", "axis": null}, "text": {"field": "t"}}},
{"data": {"name": "head"}, "mark": {"type": "text", "color": "#000", "fontSize": 5.6, "font": "Liberation Sans", "align": "left", "baseline": "middle"},
 "encoding": {"x": {"field": "i", "type": "quantitative", "axis": null}, "y": {"field": "p", "type": "quantitative", "axis": null}, "text": {"field": "t"}}},
{"data": {"name": "level"}, "mark": {"type": "rule", "color": "#ff0000", "strokeWidth": 9},
 "encoding": {"x": {"datum": 386.3, "type": "quantitative", "axis": null}, "x2": {"datum": 398.5}, "y": {"field": "p", "type": "quantitative", "axis": null}}},
{"data": {"name": "level"}, "mark": {"type": "text", "color": "#ffffff", "fontSize": 5.5, "font": "Liberation Sans", "align": "left", "baseline": "middle"},
 "encoding": {"x": {"datum": 386.9, "type": "quantitative", "axis": null}, "y": {"field": "p", "type": "quantitative", "axis": null}, "text": {"field": "t"}}},
{"data": {"name": "bid"}, "mark": {"type": "rule", "color": "#1a1a1a", "strokeWidth": 9},
 "encoding": {"x": {"datum": 386.3, "type": "quantitative", "axis": null}, "x2": {"datum": 398.5}, "y": {"field": "p", "type": "quantitative", "axis": null}}},
{"data": {"name": "bid"}, "mark": {"type": "text", "color": "#ffffff", "fontSize": 5.5, "font": "Liberation Sans", "align": "left", "baseline": "middle"},
 "encoding": {"x": {"datum": 386.9, "type": "quantitative", "axis": null}, "y": {"field": "p", "type": "quantitative", "axis": null}, "text": {"field": "t"}}}
]
}
